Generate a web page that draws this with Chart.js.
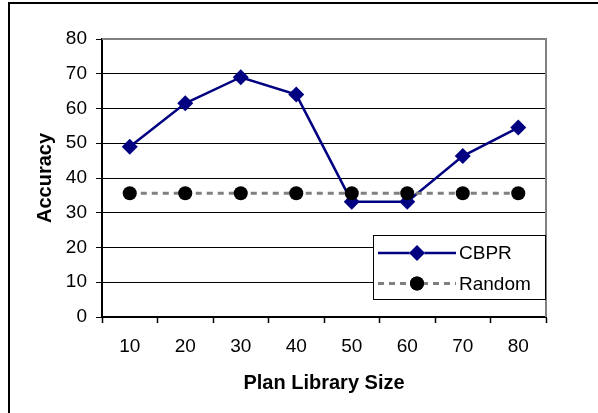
<!DOCTYPE html>
<html>
<head>
<meta charset="utf-8">
<script src="https://cdn.jsdelivr.net/npm/chart.js@4/dist/chart.umd.min.js"></script>
<style>
  html, body { margin: 0; padding: 0; background: #fff; }
  #wrap { position: relative; width: 598px; height: 413px; overflow: hidden; }
</style>
</head>
<body>
<div id="wrap"><canvas id="chart" width="598" height="413"></canvas></div>
<script>
const librarySizes = ['10', '20', '30', '40', '50', '60', '70', '80'];
const cbprAccuracy = [49, 61.5, 69, 64, 33.2, 33.2, 46.3, 54.5];
const randomAccuracy = [35.6, 35.6, 35.6, 35.6, 35.6, 35.6, 35.6, 35.6];
const yTicks = [0, 10, 20, 30, 40, 50, 60, 70, 80];

const FONT = '"Liberation Sans", Arial, sans-serif';

// outer frame + gray top/right plot border + legend box
const excelLook = {
    id: 'excelLook',
    beforeDraw(chart) {
        const ctx = chart.ctx;
        ctx.save();
        ctx.strokeStyle = '#000';
        ctx.lineWidth = 2;
        ctx.beginPath();
        ctx.moveTo(9, 420);
        ctx.lineTo(9, 3);
        ctx.lineTo(610, 3);
        ctx.stroke();
        ctx.restore();
    },
    afterDraw(chart) {
        const ctx = chart.ctx;
        const a = chart.chartArea;
        ctx.save();
        ctx.strokeStyle = '#808080';
        ctx.lineWidth = 2;
        ctx.beginPath();
        ctx.moveTo(a.left, a.top);
        ctx.lineTo(a.right, a.top);
        ctx.lineTo(a.right, a.bottom);
        ctx.stroke();

        // legend
        const lx = 373, ly = 235, lw = 172, lh = 64;
        ctx.fillStyle = '#fff';
        ctx.fillRect(lx, ly, lw, lh);
        ctx.strokeStyle = '#000';
        ctx.lineWidth = 1;
        ctx.strokeRect(lx + 0.5, ly + 0.5, lw, lh);

        const rows = chart.data.datasets.slice().sort((p, q) => q.order - p.order);
        rows.forEach((ds, i) => {
            const y = 253 + i * 30.5;
            ctx.save();
            ctx.strokeStyle = ds.borderColor;
            ctx.lineWidth = ds.borderWidth;
            ctx.setLineDash(ds.borderDash || []);
            ctx.beginPath();
            ctx.moveTo(378, y);
            ctx.lineTo(456, y);
            ctx.stroke();
            ctx.restore();
            Chart.helpers.drawPoint(ctx, {
                pointStyle: ds.pointStyle,
                radius: ds.pointRadius,
                borderWidth: 0,
                rotation: 0
            }, 417, y);
            ctx.fillStyle = ds.pointBackgroundColor;
            ctx.fill();
            ctx.fillStyle = '#000';
            ctx.font = '19px ' + FONT;
            ctx.textBaseline = 'middle';
            ctx.textAlign = 'left';
            ctx.fillText(ds.label, 459, y + 1);
        });
        ctx.restore();
    }
};

new Chart(document.getElementById('chart'), {
    type: 'line',
    data: {
        labels: librarySizes,
        datasets: [
            {
                label: 'CBPR',
                data: cbprAccuracy,
                borderColor: '#000080',
                backgroundColor: '#000080',
                pointBackgroundColor: '#000080',
                pointBorderColor: '#000080',
                borderWidth: 2.5,
                pointStyle: 'rectRot',
                pointRadius: 8,
                pointBorderWidth: 0,
                tension: 0,
                order: 1
            },
            {
                label: 'Random',
                data: randomAccuracy,
                borderColor: '#808080',
                backgroundColor: '#000',
                pointBackgroundColor: '#000',
                pointBorderColor: '#000',
                borderWidth: 3,
                borderDash: [6, 5],
                pointStyle: 'circle',
                pointRadius: 7,
                pointBorderWidth: 0,
                tension: 0,
                order: 0
            }
        ]
    },
    options: {
        responsive: false,
        animation: false,
        events: [],
        layout: { padding: { left: 0, top: 39, right: 52, bottom: 0 } },
        plugins: {
            legend: { display: false },
            tooltip: { enabled: false }
        },
        scales: {
            x: {
                offset: true,
                afterFit: s => { s.height = 96; },
                grid: {
                    display: true,
                    offset: true,
                    drawOnChartArea: false,
                    color: '#000',
                    tickLength: 6,
                    tickWidth: 1.5
                },
                border: { display: true, color: '#000', width: 2 },
                ticks: {
                    color: '#000',
                    padding: 12,
                    maxRotation: 0,
                    font: { family: FONT, size: 19 }
                },
                title: {
                    display: true,
                    text: 'Plan Library Size',
                    color: '#000',
                    font: { family: FONT, size: 20, weight: 'bold' },
                    padding: { top: 0, bottom: 18 }
                }
            },
            y: {
                min: 0,
                max: 80,
                afterFit: s => { s.width = 102; },
                afterBuildTicks: s => { s.ticks = yTicks.map(v => ({ value: v })); },
                grid: {
                    color: '#000',
                    lineWidth: 1,
                    tickLength: 6,
                    tickColor: '#000'
                },
                border: { display: true, color: '#000', width: 2 },
                ticks: {
                    color: '#000',
                    padding: 9,
                    font: { family: FONT, size: 19 }
                },
                title: {
                    display: true,
                    text: 'Accuracy',
                    color: '#000',
                    font: { family: FONT, size: 20, weight: 'bold' },
                    padding: { top: 33, bottom: 0 }
                }
            }
        }
    },
    plugins: [excelLook]
});
</script>
</body>
</html>
